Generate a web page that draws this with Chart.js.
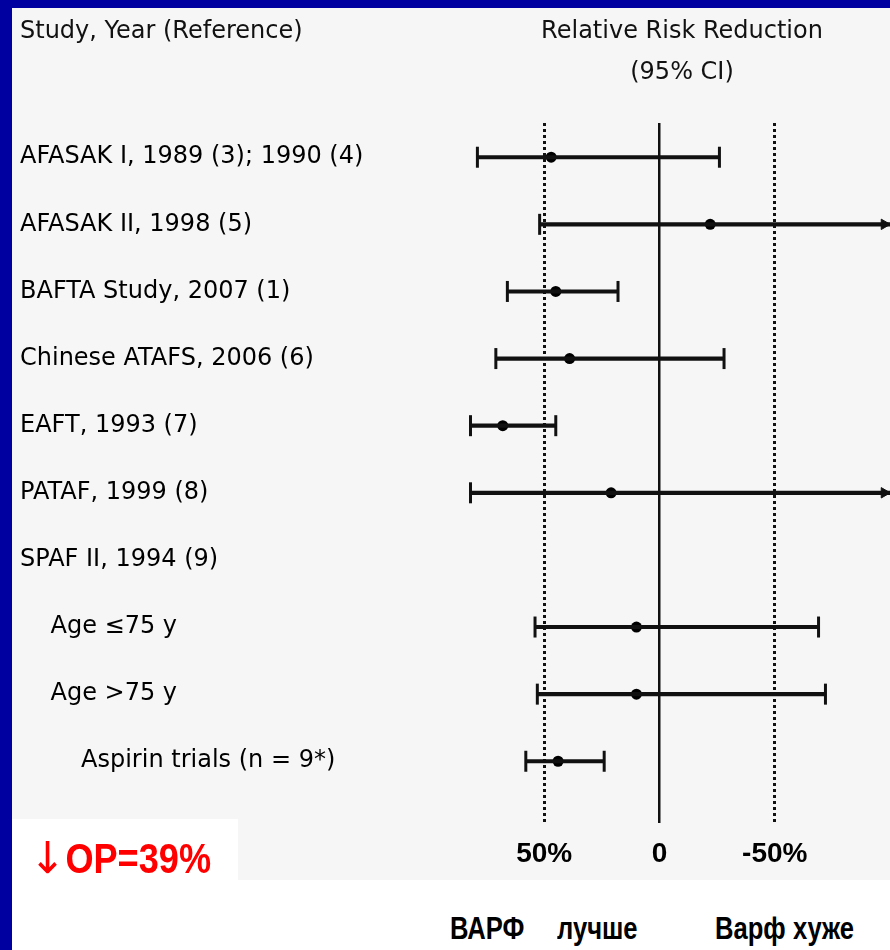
<!DOCTYPE html>
<html>
<head>
<meta charset="utf-8">
<script src="https://cdn.jsdelivr.net/npm/chart.js@4.4.1/dist/chart.umd.min.js"></script>
<style>
  body { margin: 0; width: 890px; height: 950px; background: #0000a0; position: relative; overflow: hidden; }
  .sheet { position: absolute; left: 12px; top: 8px; width: 878px; height: 942px; background: #fff; }
  .panel { position: absolute; left: 12px; top: 8px; width: 878px; height: 872px; background: #f6f6f6; }
  .note { position: absolute; left: 12px; top: 819px; width: 226px; height: 61px; background: #fff; }
  #wrap { position: absolute; left: 0; top: 0; width: 890px; height: 880px; }
  .txt { position: absolute; white-space: nowrap; color: #111; line-height: 30px; }
  .head { font: 24px 'DejaVu Sans', sans-serif; }
  .center { transform: translateX(-50%); }
  .bold { font: bold 32px 'Liberation Sans', Arial, sans-serif; color: #000; line-height: 36px; transform: scaleX(0.8); transform-origin: left center; }
  .rr { font: bold 42px 'Liberation Sans', Arial, sans-serif; color: #ff0000; line-height: 46px; transform: scaleX(0.86); transform-origin: left center; }
  .rr .arr { font: 44px 'DejaVu Sans', sans-serif; display: inline-block; transform: scaleX(1.15); margin-right: 2px; }
</style>
</head>
<body>
<div class="sheet"></div>
<div class="panel"></div>
<div class="note"></div>
<div id="wrap"><canvas id="forest" width="890" height="880"></canvas></div>

<div class="txt head" style="left:20px; top:16px;">Study, Year (Reference)</div>
<div class="txt head center" style="left:682px; top:16px;">Relative Risk Reduction</div>
<div class="txt head center" style="left:682px; top:57px;">(95% CI)</div>
<div class="txt rr" style="left:32px; top:832px;"><span class="arr">↓</span>ОР=39%</div>
<div class="txt bold" style="left:450px; top:910px;">ВАРФ</div>
<div class="txt bold" style="left:557px; top:910px;">лучше</div>
<div class="txt bold" style="left:715px; top:910px;">Варф хуже</div>

<script>
// rows, top to bottom
const studies = [
  'AFASAK I, 1989 (3); 1990 (4)',
  'AFASAK II, 1998 (5)',
  'BAFTA Study, 2007 (1)',
  'Chinese ATAFS, 2006 (6)',
  'EAFT, 1993 (7)',
  'PATAF, 1999 (8)',
  'SPAF II, 1994 (9)',
  '    Age ≤75 y',
  '    Age >75 y',
  '        Aspirin trials (n = 9*)'
];

// relative risk reduction, % (point estimate and 95% CI bounds)
const rrr  = [47, -22, 45, 39, 68, 21, null, 10, 10, 44];
const ciHi = [79, 52, 66, 71, 82, 82, null, 54, 53, 58];
const ciLo = [-26, -100, 18, -28, 45, -100, null, -69, -72, 24];

const xTicks = [50, 0, -50];
const xTickLabels = ['50%', '0', '-50%'];

const X_MIN = -100, X_MAX = 100;
const INK = '#111';

const rows = studies.map((s, i) => i).filter(i => rrr[i] !== null);
const offScale = i => ciLo[i] <= X_MIN;

const ciBars = rows.map(i => ({ x: [ciLo[i], ciHi[i]], y: i }));
const estimates = rows.map(i => ({ x: rrr[i], y: i }));
const caps = rows.map(i => ({ x: ciHi[i], y: i }))
  .concat(rows.filter(i => !offScale(i)).map(i => ({ x: ciLo[i], y: i })));
const arrows = rows.filter(offScale).map(i => ({ x: X_MIN + 2.5, y: i }));

new Chart(document.getElementById('forest'), {
  data: {
    datasets: [
      {
        type: 'bar',
        indexAxis: 'y',
        data: ciBars,
        backgroundColor: INK,
        borderWidth: 0,
        barThickness: 3.5
      },
      {
        type: 'scatter',
        data: caps,
        pointStyle: 'line',
        rotation: 90,
        radius: 10.5,
        borderWidth: 3,
        borderColor: INK
      },
      {
        type: 'scatter',
        data: arrows,
        pointStyle: 'triangle',
        rotation: 90,
        radius: 6,
        backgroundColor: INK,
        borderColor: INK,
        borderWidth: 1,
        clip: false
      },
      {
        type: 'scatter',
        data: estimates,
        pointStyle: 'circle',
        radius: 5.5,
        backgroundColor: '#000',
        borderWidth: 0
      }
    ]
  },
  options: {
    responsive: false,
    animation: false,
    layout: { autoPadding: false, padding: { left: 20, top: 123, right: 0, bottom: 0 } },
    plugins: {
      legend: { display: false },
      tooltip: { enabled: false }
    },
    scales: {
      x: {
        type: 'linear',
        position: 'bottom',
        reverse: true,
        offset: false,
        min: X_MIN,
        max: X_MAX,
        afterBuildTicks: s => { s.ticks = xTicks.map(v => ({ value: v })); },
        afterFit: s => { s.height = 57; },
        ticks: {
          autoSkip: false,
          maxRotation: 0,
          padding: 14,
          color: '#000',
          font: { family: "'Liberation Sans', Arial, sans-serif", size: 28, weight: 'bold' },
          callback: (v) => xTickLabels[xTicks.indexOf(v)]
        },
        grid: {
          drawTicks: false,
          color: INK,
          lineWidth: ctx => (ctx.tick && ctx.tick.value === 0 ? 2.5 : 3)
        },
        border: {
          display: false,
          dash: ctx => (ctx.tick && ctx.tick.value !== 0 ? [3, 3] : [])
        }
      },
      y: {
        type: 'linear',
        reverse: true,
        offset: false,
        min: -0.51,
        max: 9.92,
        afterBuildTicks: s => { s.ticks = studies.map((_, i) => ({ value: i })); },
        afterFit: s => { s.width = 409; },
        ticks: {
          autoSkip: false,
          crossAlign: 'far',
          padding: 0,
          color: '#000',
          font: { family: "'DejaVu Sans', sans-serif", size: 24 },
          callback: (v) => studies[v]
        },
        grid: { display: false },
        border: { display: false }
      }
    }
  }
});
</script>
</body>
</html>
